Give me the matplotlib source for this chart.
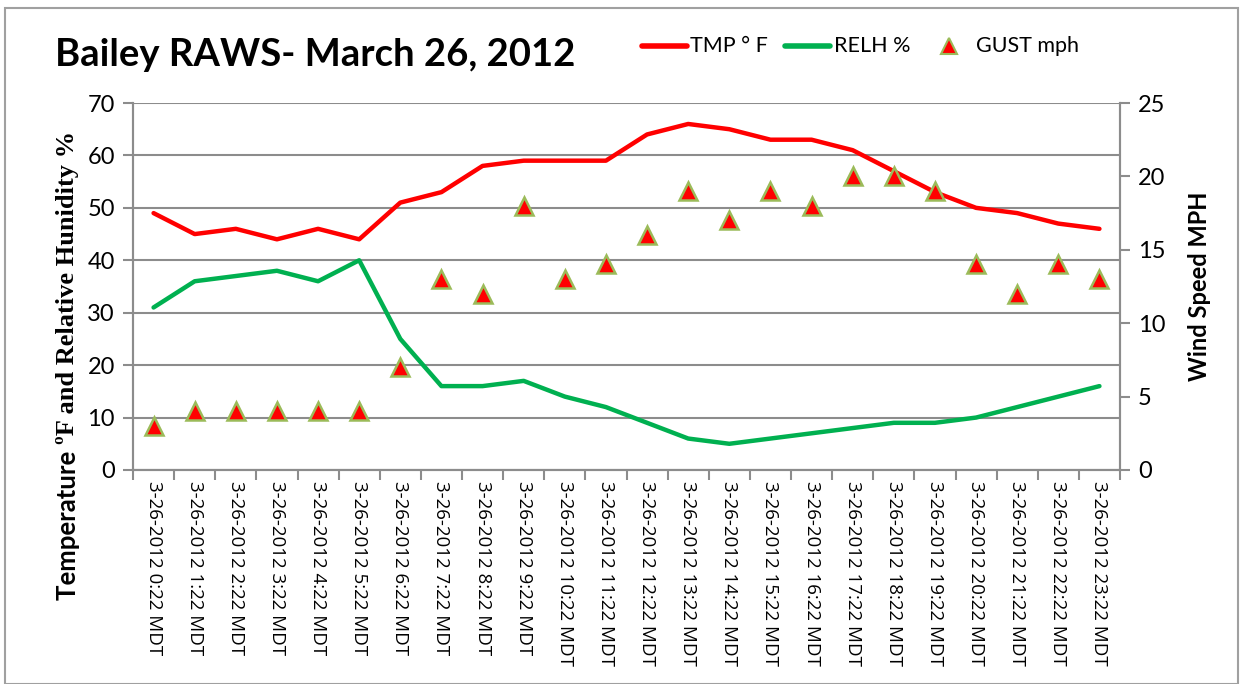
import numpy as np
import matplotlib.pyplot as plt
from matplotlib.lines import Line2D
from matplotlib.patches import Rectangle

# Data
hours = [f"3-26-2012 {h}:22 MDT" for h in range(24)]
tmp_f = [49, 45, 46, 44, 46, 44, 51, 53, 58, 59, 59, 59,
         64, 66, 65, 63, 63, 61, 57, 53, 50, 49, 47, 46]
relh = [31, 36, 37, 38, 36, 40, 25, 16, 16, 17, 14, 12,
        9, 6, 5, 6, 7, 8, 9, 9, 10, 12, 14, 16]
gust = [3, 4, 4, 4, 4, 4, 7, 13, 12, 18, 13, 14,
        16, 19, 17, 19, 18, 20, 20, 19, 14, 12, 14, 13]
legend_labels = ["TMP \u00b0 F", "RELH %", "GUST mph"]

plt.rcParams["font.family"] = ["Lato", "DejaVu Sans"]

fig = plt.figure(figsize=(12.44, 6.84), dpi=100)
W, H = 1244, 684

# outer frame
fig.patches.append(Rectangle((5 / W, 0), 1233 / W, 1 - 8 / H, transform=fig.transFigure,
                             fill=False, edgecolor="#a0a0a0", linewidth=1.5))

ax = fig.add_axes([133 / W, 1 - 470 / H, (1120 - 133) / W, (470 - 103) / H])
x = np.arange(len(hours))

ax.set_xlim(-0.5, len(hours) - 0.5)
ax.set_ylim(0, 70)
ax.set_yticks(range(0, 71, 10))
ax.yaxis.grid(True, color="#8c8c8c", linewidth=1.5)
ax.set_axisbelow(True)

ax.plot(x, tmp_f, color="#ff0000", linewidth=3.2, solid_capstyle="round", zorder=3)
ax.plot(x, relh, color="#00b050", linewidth=3.2, solid_capstyle="round", zorder=3)

ax2 = ax.twinx()
ax2.set_ylim(0, 25)
ax2.set_yticks(range(0, 26, 5))
ax2.plot(x, gust, linestyle="none", marker="^", markersize=13.5,
         markerfacecolor="#ff0000", markeredgecolor="#9bbb59", markeredgewidth=1.8)

# category ticks between labels
ax.set_xticks(x)
ax.set_xticklabels(hours, rotation=-90, fontsize=13.5, fontfamily="Open Sans")
ax.set_xticks(np.arange(-0.5, len(hours), 1), minor=True)
ax.tick_params(axis="x", which="major", length=0, pad=8)
ax.tick_params(axis="x", which="minor", length=7, width=1.5, color="#8c8c8c")
ax.tick_params(axis="y", length=7, width=1.5, color="#8c8c8c", labelsize=17, pad=6)
ax2.tick_params(axis="y", length=7, width=1.5, color="#8c8c8c", labelsize=17, pad=6)

for a in (ax, ax2):
    a.spines["top"].set_visible(False)
    for s in ("left", "right", "bottom"):
        a.spines[s].set_color("#8c8c8c")
        a.spines[s].set_linewidth(1.5)

ax2.set_ylabel("Wind Speed MPH", fontsize=17, fontweight="bold", labelpad=16)

# left axis label: sans "Temperature" then serif rest
t1 = fig.text(68 / W, 1 - 600 / H, "Temperature ", rotation=90, ha="center", va="bottom",
              fontsize=18.5, fontweight="bold")
fig.canvas.draw()
bb = t1.get_window_extent()
fig.text(68 / W, bb.y1 / H, "\u00baF and Relative Hunidity %", rotation=90, ha="center",
         va="bottom", fontsize=19, fontweight="bold", fontfamily="Liberation Serif")

fig.text(55 / W, 1 - 66 / H, "Bailey RAWS- March 26, 2012", fontsize=27.5, fontweight="bold",
         ha="left", va="baseline")

# legend placed by hand
ly = 1 - 46 / H
fig.add_artist(Line2D([642 / W, 687 / W], [ly, ly], color="#ff0000", linewidth=4,
                      solid_capstyle="round"))
fig.add_artist(Line2D([785 / W, 830 / W], [ly, ly], color="#00b050", linewidth=4,
                      solid_capstyle="round"))
fig.add_artist(Line2D([949 / W], [ly], linestyle="none", marker="^", markersize=11,
                      markerfacecolor="#ff0000", markeredgecolor="#9bbb59", markeredgewidth=1.5))
for lx, lab in zip([690, 834, 976], legend_labels):
    fig.text(lx / W, ly, lab, fontsize=15.5, ha="left", va="center")

fig.savefig("out.png", dpi=100)
